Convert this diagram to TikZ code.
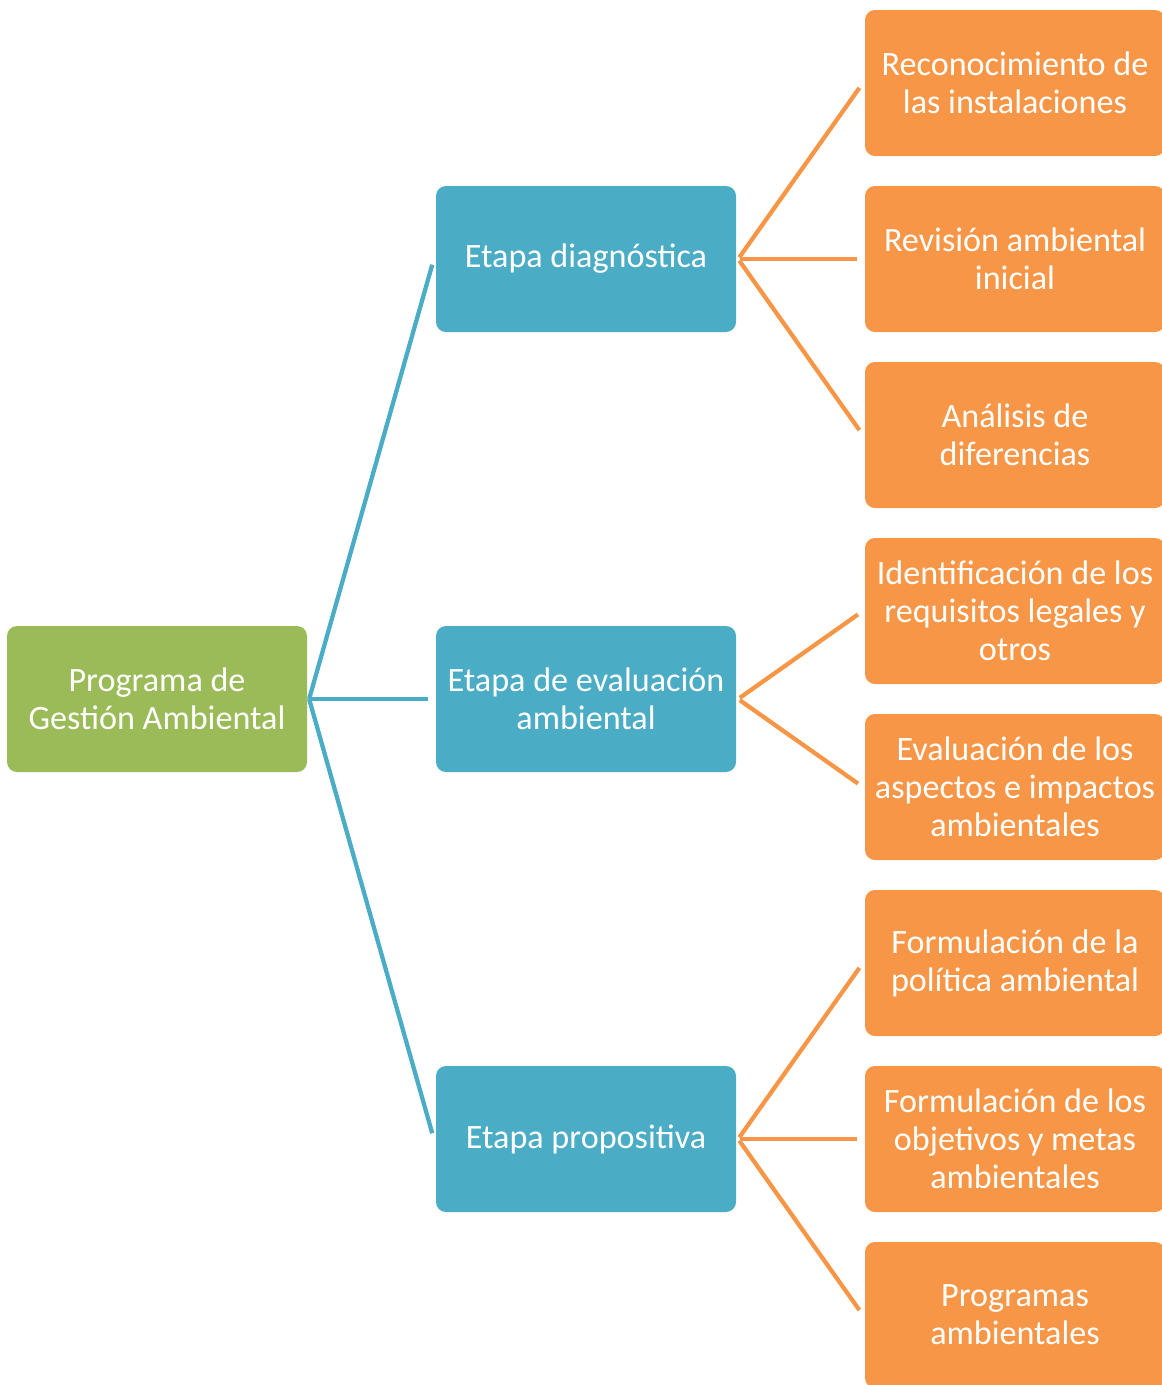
\documentclass[tikz,border=0pt]{standalone}
\usepackage{fontspec}
\setmainfont{Carlito}
\usetikzlibrary{positioning}
\definecolor{gaGreen}{HTML}{9BBB59}
\definecolor{gaTeal}{HTML}{4BACC6}
\definecolor{gaOrange}{HTML}{F79646}
\begin{document}
\begin{tikzpicture}[x=0.75pt, y=-0.75pt, node distance =132pt and 321.75pt, on grid, line width=3.2pt]
      \tikzstyle{every node}=[text=white,align=center,font=\fontsize{25.6}{28.5}\selectfont]
      \tikzstyle{gabox}=[rectangle,rounded corners=7.5pt,minimum width=225pt,minimum height=109.5pt,inner sep=0pt]
      \tikzstyle{rootbox}=[gabox,fill=gaGreen]
      \tikzstyle{stagebox}=[gabox,fill=gaTeal]
      \tikzstyle{taskbox}=[gabox,fill=gaOrange]
      \tikzstyle{stageline}=[draw=gaTeal,shorten >=4.5pt]
      \tikzstyle{taskline}=[draw=gaOrange,shorten >=4.5pt,shorten <=1.5pt]
      \useasboundingbox (0,0) rectangle (1161,1385);
      % root and stages
      \node[rootbox] (pga) at (157,699) {Programa de\\Gestión Ambiental};
      \node[stagebox] (eva) [right = of pga] {Etapa de evaluación\\ambiental};
      \node[stagebox] (dia) [above = 330pt of eva] {Etapa diagnóstica};
      \node[stagebox] (pro) [below = 330pt of eva] {Etapa propositiva};
      % tasks
      \node[taskbox] (t2) [right = of dia] {Revisión ambiental\\inicial};
      \node[taskbox] (t1) [above = of t2] {Reconocimiento de\\las instalaciones};
      \node[taskbox] (t3) [below = of t2] {Análisis de\\diferencias};
      \node[taskbox] (t4) [below = of t3] {Identificación de los\\requisitos legales y\\otros};
      \node[taskbox] (t5) [below = of t4] {Evaluación de los\\aspectos e impactos\\ambientales};
      \node[taskbox] (t6) [below = of t5] {Formulación de la\\política ambiental};
      \node[taskbox] (t7) [below = of t6] {Formulación de los\\objetivos y metas\\ambientales};
      \node[taskbox] (t8) [below = of t7] {Programas\\ambientales};
      \path[stageline] (pga.east) -- (dia.west);
      \path[stageline] (pga.east) -- (eva.west);
      \path[stageline] (pga.east) -- (pro.west);
      \foreach \s/\t in {dia/t1,dia/t2,dia/t3,eva/t4,eva/t5,pro/t6,pro/t7,pro/t8}
        \path[taskline] (\s.east) -- (\t.west);
    \end{tikzpicture}
\end{document}
